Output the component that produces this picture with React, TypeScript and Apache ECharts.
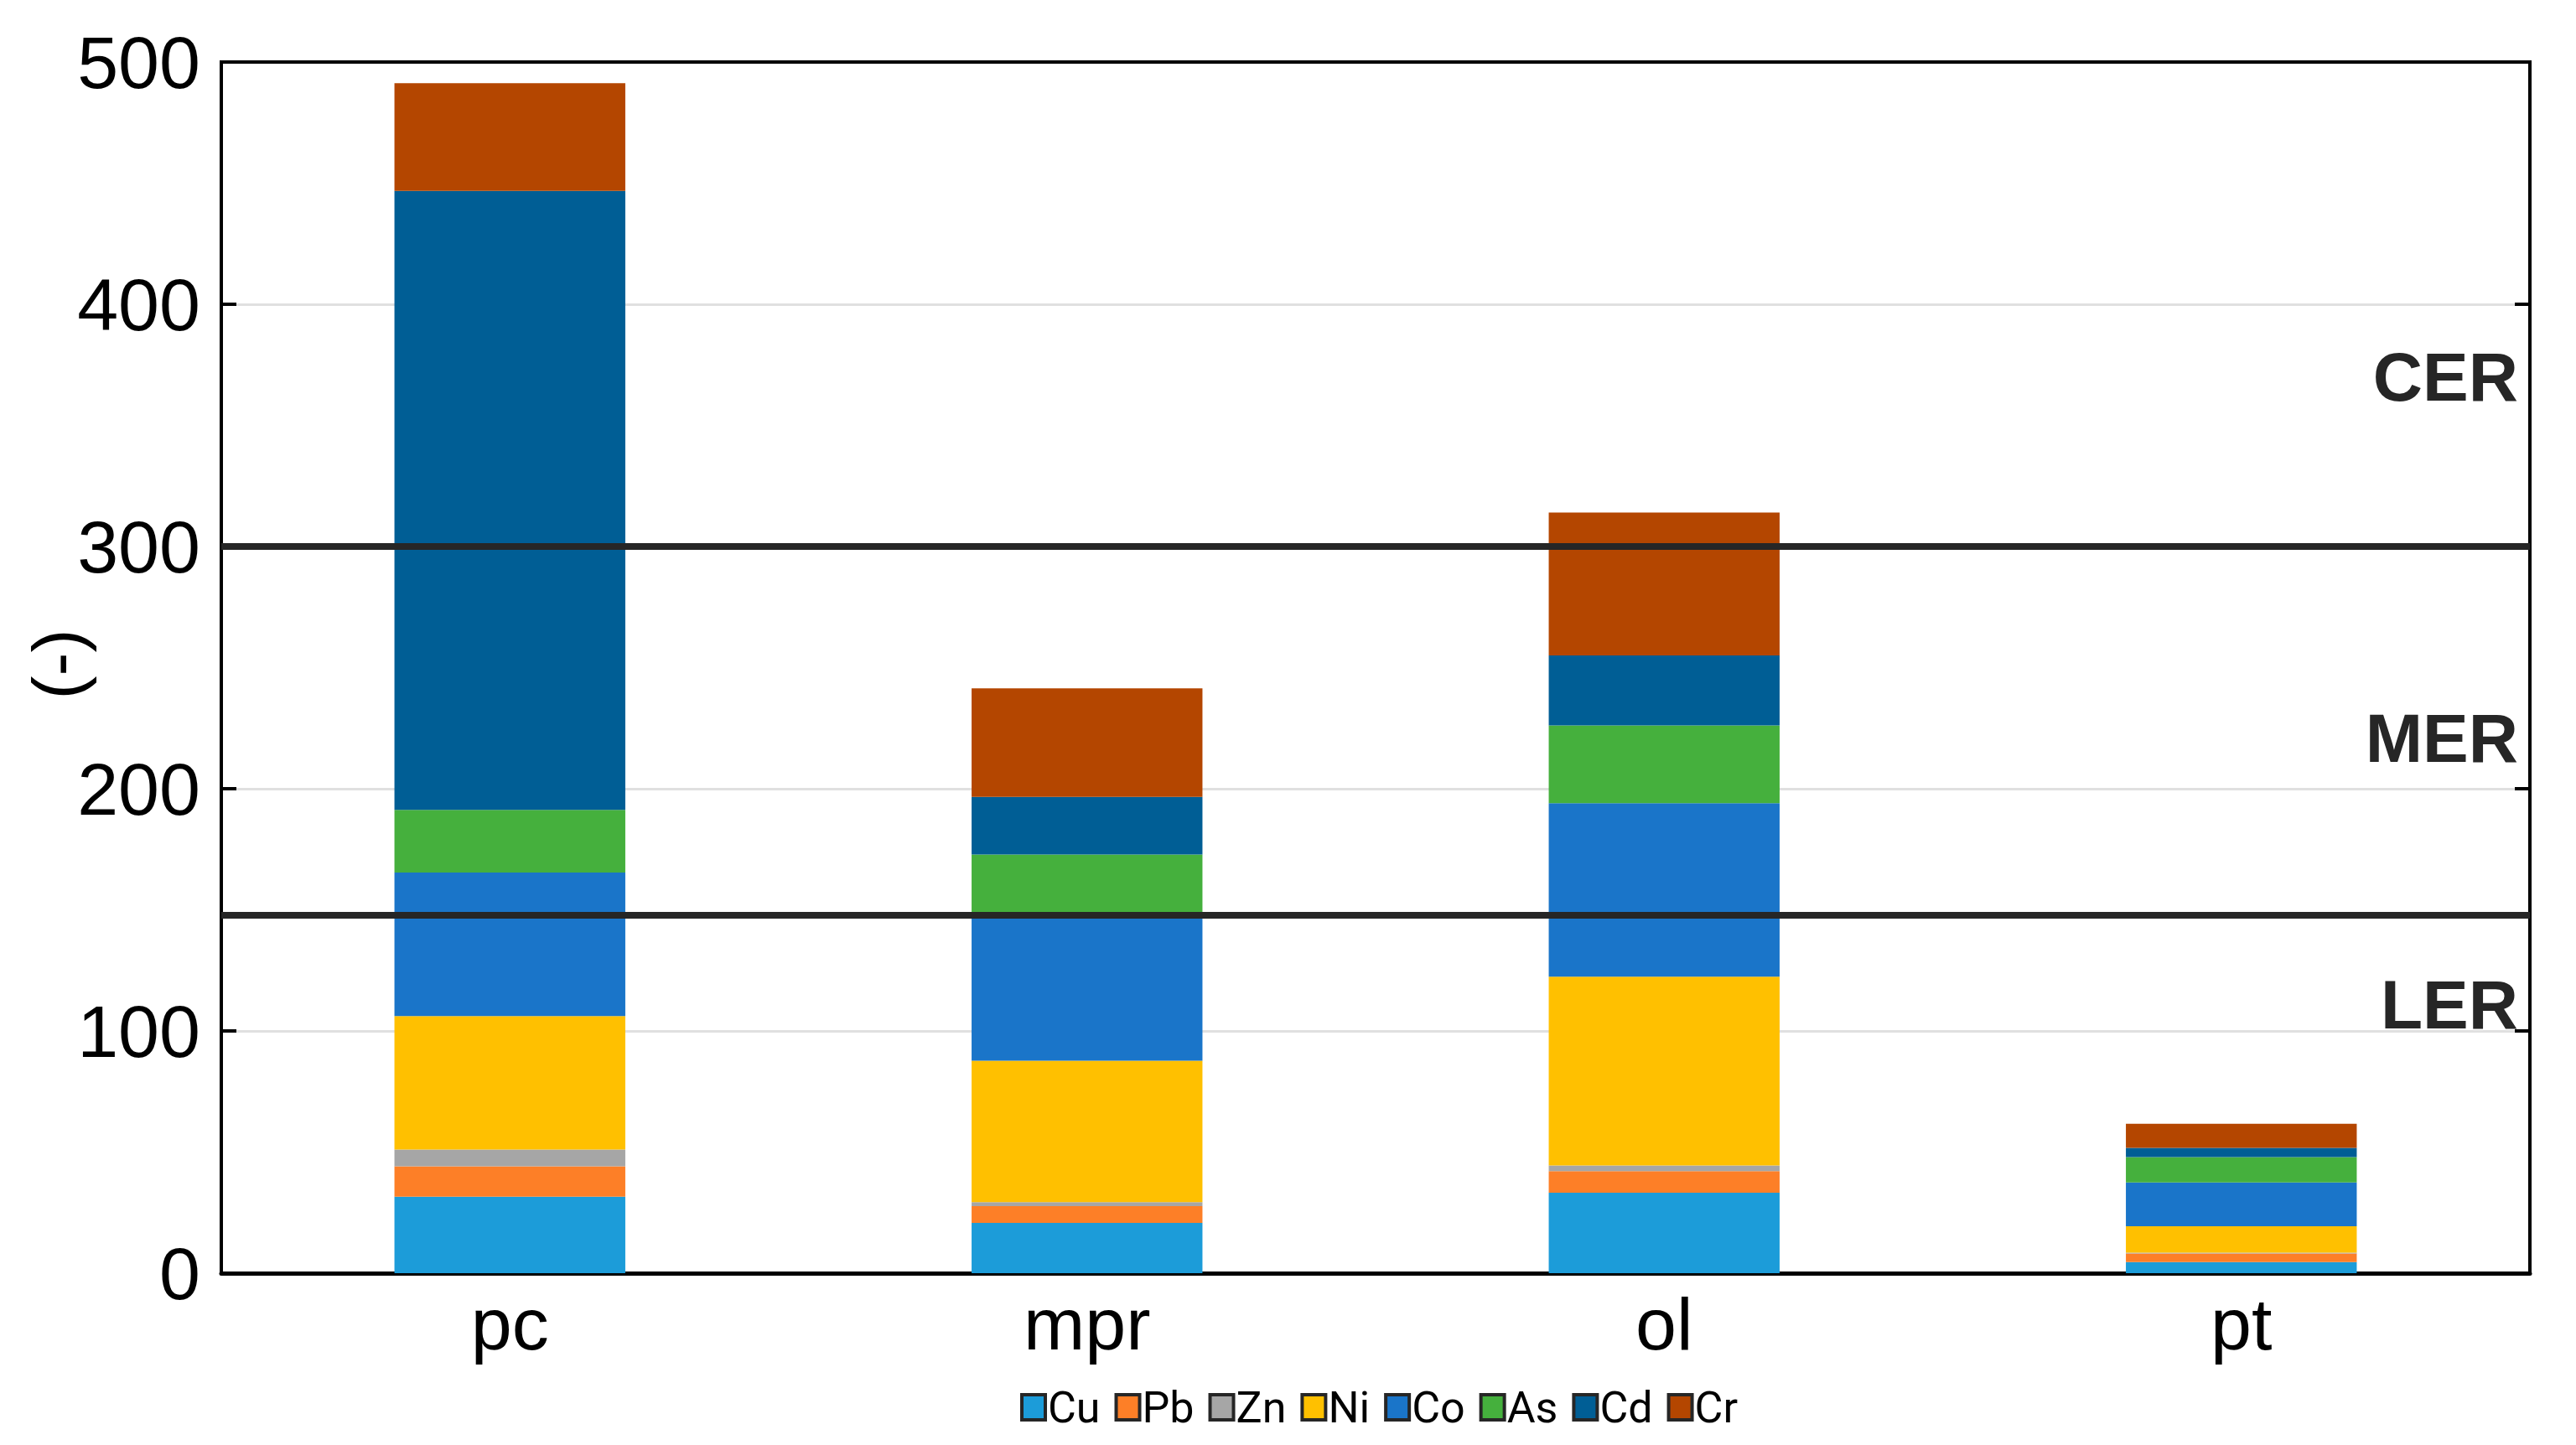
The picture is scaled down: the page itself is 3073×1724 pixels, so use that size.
import React, { useEffect, useRef } from "react";
import * as echarts from "echarts";

const categories = ["pc", "mpr", "ol", "pt"];
const seriesNames = ["Cu", "Pb", "Zn", "Ni", "Co", "As", "Cd", "Cr"];
const Cu = [31.6, 20.8, 33.2, 4.6];
const Pb = [12.5, 6.9, 8.9, 3.5];
const Zn = [6.9, 1.6, 2.4, 0.4];
const Ni = [55.1, 58.4, 77.9, 10.9];
const Co = [59.3, 61.3, 71.6, 18.1];
const As = [25.9, 23.8, 32.1, 10.4];
const Cd = [255.5, 23.8, 28.9, 3.8];
const Cr = [44.5, 44.8, 59.0, 10.0];
const seriesValues = [Cu, Pb, Zn, Ni, Co, As, Cd, Cr];
const seriesColors = ["#1c9cd9", "#fd7f27", "#a6a6a6", "#ffc000", "#1a75c9", "#45b03d", "#005e95", "#b44600"];

const yAxisName = "(-)";
const thresholds = [300, 148];
const zoneLabels = ["CER", "MER", "LER"];
const zoneLabelLevels = [370, 221, 111];
const yTicks = { min: 0, max: 500, interval: 100 };

export default function App() {
  const ref = useRef<HTMLDivElement>(null);
  useEffect(() => {
    if (!ref.current) return;
    const chart = echarts.init(ref.current, null, { renderer: "svg" });
    const series: any[] = seriesNames.map((name, i) => ({
      name,
      type: "bar",
      stack: "total",
      barWidth: "40%",
      data: seriesValues[i],
      itemStyle: { color: seriesColors[i] },
      emphasis: { disabled: true },
    }));
    series[series.length - 1].markLine = {
      silent: true,
      symbol: "none",
      label: { show: false },
      lineStyle: { type: "solid", width: 8, color: "#262626" },
      data: thresholds.map((v) => ({ yAxis: v })),
    };
    chart.setOption({
      animation: false,
      backgroundColor: "#ffffff",
      grid: {
        left: 264,
        right: 55,
        top: 74,
        bottom: 205,
        show: true,
        borderColor: "#000",
        borderWidth: 4,
        containLabel: false,
        outerBoundsMode: "none",
      },
      legend: {
        data: seriesNames,
        left: 1212,
        top: 1648,
        icon: "rect",
        itemWidth: 28,
        itemHeight: 30,
        itemGap: 17,
        itemStyle: { borderColor: "#262626", borderWidth: 4 },
        textStyle: { fontFamily: "Roboto", fontSize: 52, color: "#000", padding: [0, 0, 0, -2] },
      },
      xAxis: {
        type: "category",
        data: categories,
        axisLine: { show: true, lineStyle: { color: "#000", width: 5 } },
        axisTick: { show: false },
        axisLabel: { fontFamily: "Liberation Sans", fontSize: 88, color: "#000", margin: 16 },
      },
      yAxis: [
        {
          type: "value",
          ...yTicks,
          axisLine: { show: true, lineStyle: { color: "#000", width: 4 } },
          axisTick: { show: true, inside: true, length: 18, lineStyle: { color: "#000", width: 4 } },
          axisLabel: { fontFamily: "Liberation Sans", fontSize: 88, color: "#000", margin: 25 },
          splitLine: {
            show: true,
            lineStyle: { color: ["#000", "#e0e0e0", "#e0e0e0", "#e0e0e0", "#e0e0e0", "#000"], width: 3 },
          },
        },
        {
          type: "value",
          ...yTicks,
          position: "right",
          axisLine: { show: true, lineStyle: { color: "#000", width: 4 } },
          axisTick: { show: true, inside: true, length: 18, lineStyle: { color: "#000", width: 4 } },
          axisLabel: { show: false },
          splitLine: { show: false },
        },
      ],
      series,
    });
    const xRight = 3073 - 55 - 14;
    const yMid = ((chart.convertToPixel({ yAxisIndex: 0 }, yTicks.min) as number) +
      (chart.convertToPixel({ yAxisIndex: 0 }, yTicks.max) as number)) / 2;
    chart.setOption({
      graphic: [
        {
          type: "text",
          x: 69,
          y: yMid - 4,
          rotation: Math.PI / 2,
          silent: true,
          style: {
            text: yAxisName,
            align: "center",
            verticalAlign: "middle",
            fontFamily: "Liberation Sans",
            fontSize: 84,
            fill: "#000",
          },
        },
        ...zoneLabels.map((t, i) => ({
          type: "text",
          x: xRight,
          y: chart.convertToPixel({ yAxisIndex: 0 }, zoneLabelLevels[i]) as number,
          silent: true,
          z: 100,
          style: {
            text: t,
            align: "right",
            verticalAlign: "middle",
            fontFamily: "Liberation Sans",
            fontWeight: "bold",
            fontSize: 82,
            fill: "#262626",
          },
        })),
      ],
    });
    return () => chart.dispose();
  }, []);
  return (
    <div
      ref={ref}
      style={{ position: "fixed", left: 0, top: 0, width: 3073, height: 1724, background: "#fff" }}
    />
  );
}
